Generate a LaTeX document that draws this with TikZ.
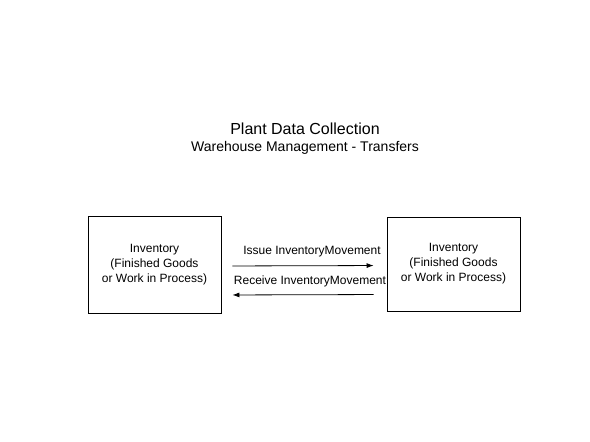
\documentclass[tikz,border=0pt]{standalone}
\usepackage{fontspec}
\setmainfont{Liberation Sans}
\usetikzlibrary{arrows.meta,positioning}

\begin{document}
\begin{tikzpicture}[x=1pt,y=-1pt,
    box/.style={draw,thick,minimum width=133pt,align=center,font=\fontsize{12}{15}\selectfont},
    flow/.style={-{Latex[length=7pt,width=5pt]},thick},
    lbl/.style={font=\fontsize{12}{14}\selectfont,inner sep=0pt}]
      \useasboundingbox (0,0) rectangle (590,442);
      \node (title) at (305,129) {\fontsize{16}{18}\selectfont Plant Data Collection};
      \node (sub) [below=3pt of title.south,inner sep=0pt] {\fontsize{14}{16}\selectfont Warehouse Management - Transfers};
      \node[box,minimum height=97pt] (src) at (154.5,264.5) {Inventory\\(Finished Goods\\or Work in Process)};
      \node[box,minimum height=94pt] (dst) at (453.5,264) {Inventory\\(Finished Goods\\or Work in Process)};
      \draw[flow,shorten <=11pt,shorten >=13pt] ([yshift=-1.5pt]src.east) -- ([yshift=-1.5pt]dst.west)
        node[lbl,midway,above=8pt,xshift=8pt] {Issue InventoryMovement};
      \draw[flow,shorten <=13pt,shorten >=11pt] ([yshift=-30.5pt]dst.west) -- ([yshift=-30.5pt]src.east)
        node[lbl,midway,above=7pt,xshift=6pt] {Receive InventoryMovement};
    \end{tikzpicture}
\end{document}
